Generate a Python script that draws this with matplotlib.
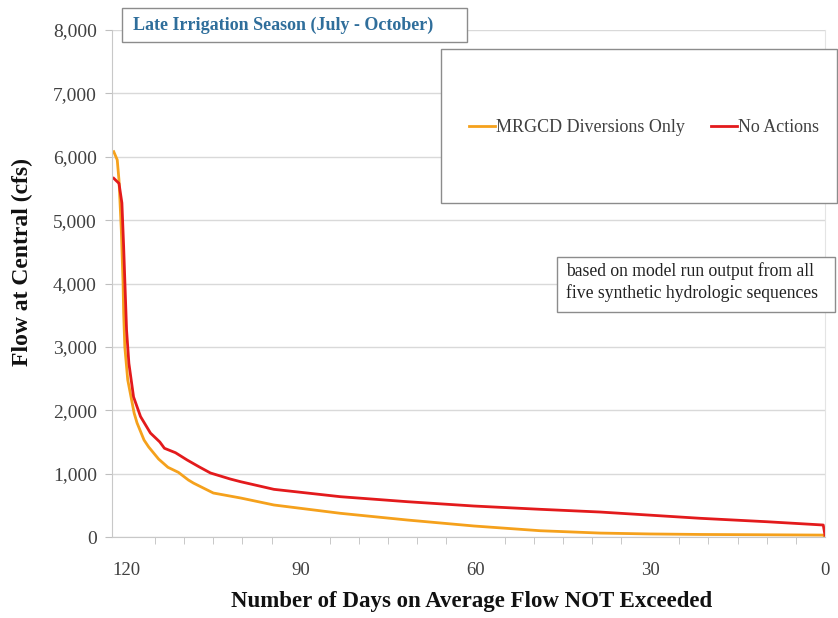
import matplotlib
matplotlib.use("Agg")
import matplotlib.pyplot as plt
from matplotlib.patches import Rectangle
from matplotlib.ticker import FuncFormatter, MultipleLocator

# values (days not exceeded, flow in cfs)
mrgcd_days = [122.1, 121.5, 121.2, 120.8, 120.5, 120.4, 120.2, 119.7, 118.6, 118.1,
              116.9, 116.1, 114.4, 112.8, 111.0, 109.3, 108.4, 105.0, 100.3, 94.6,
              83.2, 71.7, 60.3, 48.9, 38.6, 30.0, 21.4, 10.0, 0.3, 0.0]
mrgcd_flow = [6080, 5950, 5630, 4840, 4000, 3530, 3000, 2480, 1955, 1800,
              1530, 1420, 1230, 1100, 1020, 900, 850, 694, 615, 505,
              374, 268, 174, 99, 62, 48, 40, 35, 30, 0]

no_action_days = [122.1, 121.2, 120.7, 120.4, 120.2, 119.9, 119.5, 118.7, 117.5, 115.8,
                  114.2, 113.4, 111.5, 109.5, 107.5, 105.5, 102.1, 100.3, 94.6, 83.2,
                  71.7, 60.3, 48.9, 38.6, 21.4, 10.0, 0.3, 0.0]
no_action_flow = [5660, 5580, 5270, 4580, 4050, 3265, 2740, 2210, 1900, 1640,
                  1500, 1400, 1330, 1215, 1110, 1010, 915, 872, 752, 636,
                  557, 489, 437, 394, 295, 241, 189, 30]

x_ticks = [120, 90, 60, 30, 0]
title_text = "Late Irrigation Season (July - October)"
note_lines = ["based on model run output from all", "five synthetic hydrologic sequences"]

SERIF = ["Liberation Serif", "DejaVu Serif"]
plt.rcParams["font.family"] = SERIF

fig = plt.figure(figsize=(8.38, 6.18), dpi=100)
ax = fig.add_axes([112 / 838, 1 - 537 / 618, 713 / 838, 507 / 618])

mrgcd_line, = ax.plot(mrgcd_days, mrgcd_flow, color="#F5A11C", linewidth=2.0)
no_action_line, = ax.plot(no_action_days, no_action_flow, color="#E31A1C", linewidth=2.0)

ax.set_xlim(122.4, 0)
ax.set_ylim(0, 8000)
ax.set_xticks(x_ticks)
ax.xaxis.set_minor_locator(MultipleLocator(5))
ax.yaxis.set_major_locator(MultipleLocator(1000))
ax.yaxis.set_major_formatter(FuncFormatter(lambda v, _: f"{v:,.0f}"))
ax.grid(axis="y", color="#D9D9D9", linewidth=1.0)
ax.set_axisbelow(True)

ax.spines["top"].set_visible(False)
ax.spines["left"].set_color("#C8C8C8")
ax.spines["bottom"].set_color("#C8C8C8")
ax.spines["right"].set_color("#E4E4E4")
ax.tick_params(axis="both", which="both", color="#BFBFBF", length=5, labelcolor="#404040")
ax.tick_params(axis="x", which="major", length=0, pad=18, labelsize=13.5)
ax.tick_params(axis="y", pad=6, labelsize=14)
for label in ax.get_xticklabels() + ax.get_yticklabels():
    label.set_family(SERIF)

fig.text(22 / 838, 1 - 262 / 618, "Flow at Central (cfs)", rotation=90, ha="center",
         va="center", fontsize=17, fontweight="bold", color="#111111", family=SERIF)
fig.text(472 / 838, 1 - 602 / 618, "Number of Days on Average Flow NOT Exceeded",
         ha="center", va="center", fontsize=16.5, fontweight="bold", color="#111111",
         family=SERIF)

# title box
fig.patches.append(Rectangle((122 / 838, 1 - 42 / 618), 345 / 838, 34 / 618,
                             transform=fig.transFigure, facecolor="white",
                             edgecolor="#8C8C8C", linewidth=1.0, zorder=5))
fig.text(133 / 838, 1 - 25 / 618, title_text, ha="left", va="center", fontsize=13,
         fontweight="bold", color="#2F6E9B", zorder=6, family=SERIF)

# legend box
fig.patches.append(Rectangle((441 / 838, 1 - 203 / 618), 396 / 838, 154 / 618,
                             transform=fig.transFigure, facecolor="white",
                             edgecolor="#8C8C8C", linewidth=1.0, zorder=5))
leg = fig.legend([mrgcd_line, no_action_line], ["MRGCD Diversions Only", "No Actions"],
                 loc="center", bbox_to_anchor=(644 / 838, 1 - 128 / 618), ncol=2,
                 frameon=False, prop={"family": SERIF, "size": 13}, handlelength=1.45,
                 handletextpad=0.05, columnspacing=1.45, borderpad=0, borderaxespad=0)
leg.set_zorder(7)
for text in leg.get_texts():
    text.set_color("#404040")

# note box
fig.patches.append(Rectangle((557 / 838, 1 - 312 / 618), 278 / 838, 55 / 618,
                             transform=fig.transFigure, facecolor="white",
                             edgecolor="#8C8C8C", linewidth=1.0, zorder=5))
fig.text(566 / 838, 1 - 282 / 618, "\n".join(note_lines), ha="left", va="center",
         fontsize=12.7, color="#222222", linespacing=1.3, zorder=6, family=SERIF)

fig.savefig("out.png", dpi=100)
